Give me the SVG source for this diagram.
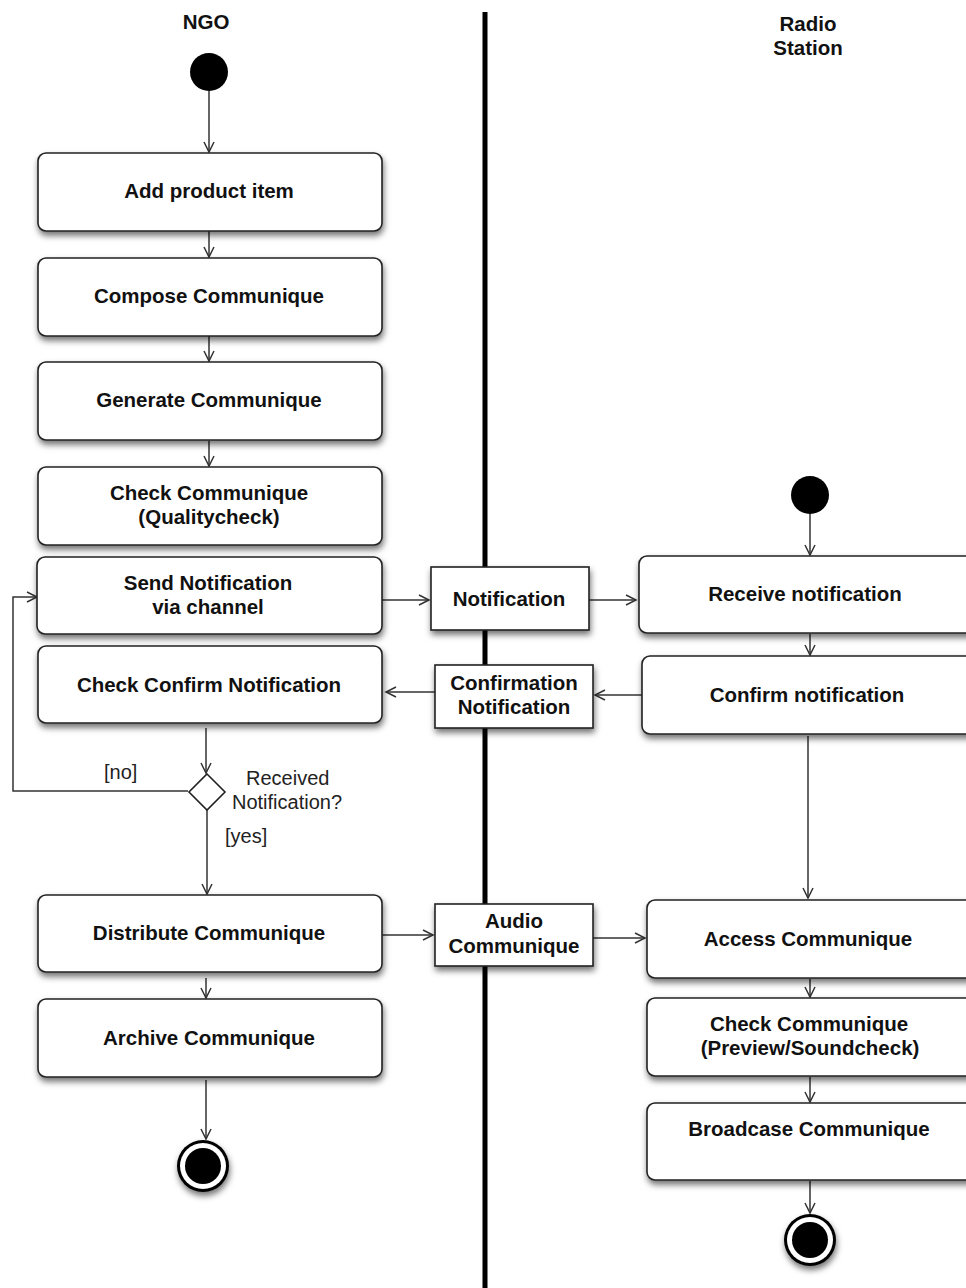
<svg xmlns="http://www.w3.org/2000/svg" width="966" height="1288" viewBox="0 0 966 1288">
  <style>
    .act { fill: #ffffff; stroke: #222222; stroke-width: 1.6; filter: url(#shadow); }
    .obj { fill: #ffffff; stroke: #222222; stroke-width: 1.6; filter: url(#shadow); }
    .lbl { font-family: "Liberation Sans", Arial, sans-serif; font-size: 20.5px; font-weight: bold; fill: #111111; text-anchor: middle; }
    .note { font-family: "Liberation Sans", Arial, sans-serif; font-size: 20px; fill: #222222; }
    .edge { fill: none; stroke: #333333; stroke-width: 1.5; marker-end: url(#arrow); }
  </style>
  <defs>
    <filter id="shadow" x="-20%" y="-20%" width="140%" height="160%">
      <feDropShadow dx="1" dy="4" stdDeviation="3" flood-color="#000000" flood-opacity="0.55"/>
    </filter>
    <marker id="arrow" markerUnits="userSpaceOnUse" markerWidth="14" markerHeight="14" refX="11" refY="6" orient="auto">
      <path d="M1,1 L11,6 L1,11" fill="none" stroke="#333333" stroke-width="1.5"/>
    </marker>
  </defs>

  <rect width="966" height="1288" fill="#ffffff"/>

  <!-- swimlane headers and divider -->
  <g id="lanes">
    <text class="lbl" x="206" y="29">NGO</text>
    <text class="lbl" x="808" y="31">Radio</text>
    <text class="lbl" x="808" y="55">Station</text>
    <line x1="485" y1="12" x2="485" y2="1288" stroke="#000000" stroke-width="5"/>
  </g>

  <!-- connectors -->
  <g id="connectors">
    <line class="edge" x1="209" y1="91" x2="209" y2="152"/>
    <line class="edge" x1="209" y1="231" x2="209" y2="257"/>
    <line class="edge" x1="209" y1="336" x2="209" y2="361"/>
    <line class="edge" x1="209" y1="441" x2="209" y2="466"/>
    <line class="edge" x1="378" y1="600" x2="429" y2="600"/>
    <line class="edge" x1="589" y1="600" x2="636" y2="600"/>
    <line class="edge" x1="642" y1="695" x2="595" y2="695"/>
    <line class="edge" x1="435" y1="692" x2="386" y2="692"/>
    <line class="edge" x1="206" y1="728" x2="206" y2="773"/>
    <polyline class="edge" points="188,791 13,791 13,597 37,597"/>
    <line class="edge" x1="207" y1="810" x2="207" y2="894"/>
    <line class="edge" x1="382" y1="935" x2="433" y2="935"/>
    <line class="edge" x1="593" y1="938" x2="645" y2="938"/>
    <line class="edge" x1="206" y1="978" x2="206" y2="998"/>
    <line class="edge" x1="206" y1="1080" x2="206" y2="1139"/>
    <line class="edge" x1="810" y1="514" x2="810" y2="555"/>
    <line class="edge" x1="810" y1="634" x2="810" y2="655"/>
    <line class="edge" x1="808" y1="736" x2="808" y2="898"/>
    <line class="edge" x1="810" y1="979" x2="810" y2="997"/>
    <line class="edge" x1="810" y1="1077" x2="810" y2="1102"/>
    <line class="edge" x1="810" y1="1181" x2="810" y2="1213"/>
  </g>

  <!-- NGO lane -->
  <g id="ngo-start"><circle cx="209" cy="72" r="19" fill="#000000"/></g>
  <g id="add-product-item">
    <rect class="act" x="38" y="153" width="344" height="78" rx="8"/>
    <text class="lbl" x="209" y="198">Add product item</text>
  </g>
  <g id="compose-communique">
    <rect class="act" x="38" y="258" width="344" height="78" rx="8"/>
    <text class="lbl" x="209" y="303">Compose Communique</text>
  </g>
  <g id="generate-communique">
    <rect class="act" x="38" y="362" width="344" height="78" rx="8"/>
    <text class="lbl" x="209" y="407">Generate Communique</text>
  </g>
  <g id="check-communique-ngo">
    <rect class="act" x="38" y="467" width="344" height="78" rx="8"/>
    <text class="lbl" x="209" y="500">Check Communique</text>
    <text class="lbl" x="209" y="524">(Qualitycheck)</text>
  </g>
  <g id="send-notification">
    <rect class="act" x="37" y="557" width="345" height="77" rx="8"/>
    <text class="lbl" x="208" y="590">Send Notification</text>
    <text class="lbl" x="208" y="614">via channel</text>
  </g>
  <g id="check-confirm-notification">
    <rect class="act" x="38" y="646" width="344" height="77" rx="8"/>
    <text class="lbl" x="209" y="692">Check Confirm Notification</text>
  </g>
  <g id="received-decision">
    <polygon points="207,774 225,792 207,810 189,792" fill="#ffffff" stroke="#222222" stroke-width="1.6"/>
    <text class="note" x="104" y="779">[no]</text>
    <text class="note" x="246" y="785">Received</text>
    <text class="note" x="232" y="809">Notification?</text>
    <text class="note" x="225" y="843">[yes]</text>
  </g>
  <g id="distribute-communique">
    <rect class="act" x="38" y="895" width="344" height="77" rx="8"/>
    <text class="lbl" x="209" y="940">Distribute Communique</text>
  </g>
  <g id="archive-communique">
    <rect class="act" x="38" y="999" width="344" height="78" rx="8"/>
    <text class="lbl" x="209" y="1045">Archive Communique</text>
  </g>
  <g id="ngo-end">
    <circle cx="203" cy="1166" r="26" fill="#000000" filter="url(#shadow)"/>
    <circle cx="203" cy="1166" r="23" fill="#ffffff"/>
    <circle cx="203" cy="1166" r="18" fill="#000000"/>
  </g>

  <!-- exchanged objects -->
  <g id="notification">
    <rect class="obj" x="431" y="567" width="158" height="63"/>
    <text class="lbl" x="509" y="606">Notification</text>
  </g>
  <g id="confirmation-notification">
    <rect class="obj" x="435" y="665" width="158" height="63"/>
    <text class="lbl" x="514" y="690">Confirmation</text>
    <text class="lbl" x="514" y="714">Notification</text>
  </g>
  <g id="audio-communique">
    <rect class="obj" x="435" y="904" width="158" height="62"/>
    <text class="lbl" x="514" y="928">Audio</text>
    <text class="lbl" x="514" y="953">Communique</text>
  </g>

  <!-- Radio Station lane -->
  <g id="radio-start"><circle cx="810" cy="495" r="19" fill="#000000"/></g>
  <g id="receive-notification">
    <rect class="act" x="639" y="556" width="345" height="77" rx="8"/>
    <text class="lbl" x="805" y="601">Receive notification</text>
  </g>
  <g id="confirm-notification">
    <rect class="act" x="642" y="656" width="342" height="78" rx="8"/>
    <text class="lbl" x="807" y="702">Confirm notification</text>
  </g>
  <g id="access-communique">
    <rect class="act" x="647" y="900" width="337" height="78" rx="8"/>
    <text class="lbl" x="808" y="946">Access Communique</text>
  </g>
  <g id="check-communique-radio">
    <rect class="act" x="647" y="998" width="337" height="78" rx="8"/>
    <text class="lbl" x="809" y="1031">Check Communique</text>
    <text class="lbl" x="810" y="1055">(Preview/Soundcheck)</text>
  </g>
  <g id="broadcase-communique">
    <rect class="act" x="647" y="1103" width="337" height="77" rx="8"/>
    <text class="lbl" x="809" y="1136">Broadcase Communique</text>
  </g>
  <g id="radio-end">
    <circle cx="810" cy="1240" r="26" fill="#000000" filter="url(#shadow)"/>
    <circle cx="810" cy="1240" r="23" fill="#ffffff"/>
    <circle cx="810" cy="1240" r="18" fill="#000000"/>
  </g>
</svg>
